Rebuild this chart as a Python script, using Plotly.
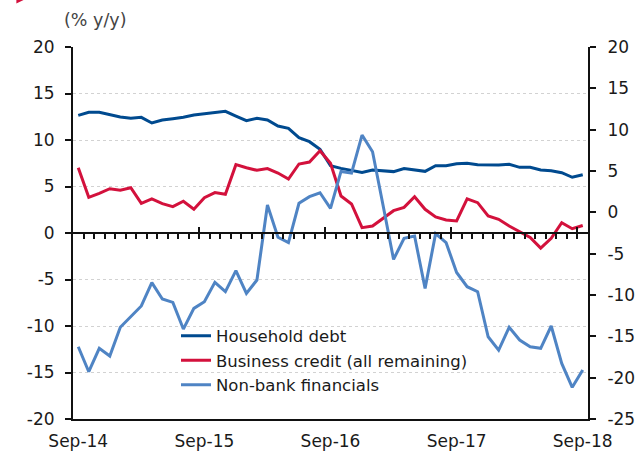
import plotly.graph_objects as go

# Monthly categories Sep-14 .. Sep-18 (49 months)
x_idx = list(range(49))
x_tick_pos = [0, 12, 24, 36, 48]
x_tick_text = ["Sep-14", "Sep-15", "Sep-16", "Sep-17", "Sep-18"]

household_debt = [12.65, 12.98, 12.98, 12.69, 12.47, 12.33, 12.44, 11.83, 12.15, 12.29,
                  12.44, 12.69, 12.80, 12.98, 13.08, 12.58, 12.08, 12.33, 12.15, 11.50,
                  11.26, 10.25, 9.82, 9.00, 7.24, 6.95, 6.70, 6.52, 6.77, 6.67,
                  6.60, 6.93, 6.77, 6.63, 7.24, 7.24, 7.45, 7.49, 7.34, 7.31,
                  7.31, 7.38, 7.06, 7.06, 6.77, 6.70, 6.48, 5.99, 6.27]

business_credit = [7.02, 3.84, 4.27, 4.76, 4.59, 4.87, 3.19, 3.66, 3.15, 2.83,
                   3.41, 2.55, 3.80, 4.34, 4.16, 7.35, 7.02, 6.74, 6.92, 6.45,
                   5.80, 7.42, 7.63, 8.85, 7.49, 3.98, 3.12, 0.57, 0.75, 1.58,
                   2.40, 2.76, 3.90, 2.55, 1.72, 1.40, 1.29, 3.66, 3.26, 1.83,
                   1.47, 0.75, 0.14, -0.47, -1.63, -0.57, 1.11, 0.46, 0.80]

non_bank = [-16.26, -19.28, -16.45, -17.38, -13.91, -12.62, -11.33, -8.51, -10.49, -10.89,
            -14.12, -11.62, -10.81, -8.47, -9.60, -7.06, -9.80, -8.19, 0.88, -3.02,
            -3.67, 1.09, 1.89, 2.37, 0.48, 4.95, 4.75, 9.35, 7.33, 0.85,
            -5.69, -3.15, -2.87, -9.20, -2.58, -3.67, -7.28, -9.00, -9.60, -15.05,
            -16.66, -13.91, -15.45, -16.26, -16.45, -13.75, -18.27, -21.17, -19.08]

left_ticks = [20, 15, 10, 5, 0, -5, -10, -15, -20]
left_tick_text = ["20", "15", "10", "5", "0", "-5", "-10", "-15", "-20"]
right_ticks = [20, 15, 10, 5, 0, -5, -10, -15, -20, -25]
right_tick_text = ["20", "15", "10", "5", "0", "-5", "-10", "-15", "-20", "-25"]

C_HH = "#004A8F"
C_BC = "#D3113C"
C_NB = "#4F84C4"
FONT = "DejaVu Sans, Verdana, sans-serif"
AX = "#111111"
FS = 17

fig = go.Figure()
fig.add_trace(go.Scatter(x=x_idx, y=household_debt, name="Household debt", mode="lines",
                         line=dict(color=C_HH, width=3), xaxis="x", yaxis="y"))
fig.add_trace(go.Scatter(x=x_idx, y=business_credit, name="Business credit (all remaining)",
                         mode="lines", line=dict(color=C_BC, width=3), xaxis="x2", yaxis="y"))
fig.add_trace(go.Scatter(x=x_idx, y=non_bank, name="Non-bank financials", mode="lines",
                         line=dict(color=C_NB, width=3), xaxis="x3", yaxis="y2"))

xr = [-0.5, 48.5]
boundaries = [i - 0.5 for i in range(1, 49)]
major_bounds = [11.5, 23.5, 35.5, 47.5]

fig.update_layout(
    width=635, height=452,
    margin=dict(l=73, r=47, t=47, b=33),
    paper_bgcolor="white", plot_bgcolor="white",
    font=dict(family=FONT, size=FS, color="#1a1a1a"),
    showlegend=True,
    legend=dict(x=0.2, y=0.27, xanchor="left", yanchor="top",
                bgcolor="rgba(0,0,0,0)", font=dict(size=16.5, color="#1a1a1a"),
                tracegroupgap=0, itemwidth=30),
    xaxis=dict(range=xr, tickvals=x_tick_pos, ticktext=x_tick_text, ticks="",
               showline=True, linecolor=AX, linewidth=2, showgrid=False, zeroline=False,
               anchor="y", ticklabelstandoff=6, automargin=False),
    xaxis2=dict(range=xr, overlaying="x", anchor="free", position=0.5, side="bottom",
                tickvals=boundaries, ticks="outside", ticklen=5, tickwidth=1.5,
                tickcolor=AX, showticklabels=False, showline=True, linecolor=AX,
                linewidth=2, showgrid=False, zeroline=False, automargin=False),
    xaxis3=dict(range=xr, overlaying="x", anchor="free", position=0.5, side="top",
                tickvals=major_bounds, ticks="outside", ticklen=6, tickwidth=2,
                tickcolor=AX, showticklabels=False, showline=False, showgrid=False,
                zeroline=False, automargin=False),
    yaxis=dict(range=[-20, 20], tickvals=left_ticks, ticktext=left_tick_text,
               ticks="outside", ticklen=6, tickwidth=1.5, tickcolor=AX,
               showline=True, linecolor=AX, linewidth=2, zeroline=False,
               showgrid=True, gridcolor="#d2d2d2", griddash="dot", gridwidth=1,
               ticklabelstandoff=7, automargin=False),
    yaxis2=dict(range=[-25, 20], tickvals=right_ticks, ticktext=right_tick_text,
                overlaying="y", side="right", anchor="x",
                ticks="outside", ticklen=6, tickwidth=1.5, tickcolor=AX,
                showline=True, linecolor=AX, linewidth=2, zeroline=False,
                showgrid=False, ticklabelstandoff=8, automargin=False),
    annotations=[dict(text="(% y/y)", xref="paper", yref="paper", x=-0.021, y=1.073,
                      xanchor="left", yanchor="middle", showarrow=False,
                      font=dict(size=17.5, color="#444444"))],
    shapes=[dict(type="path", xref="paper", yref="paper",
                 path="M -0.11,1.1263 L -0.096,1.1263 L -0.11,1.117 Z",
                 fillcolor=C_BC, line=dict(width=0))],
)

fig.write_html("out.html")
